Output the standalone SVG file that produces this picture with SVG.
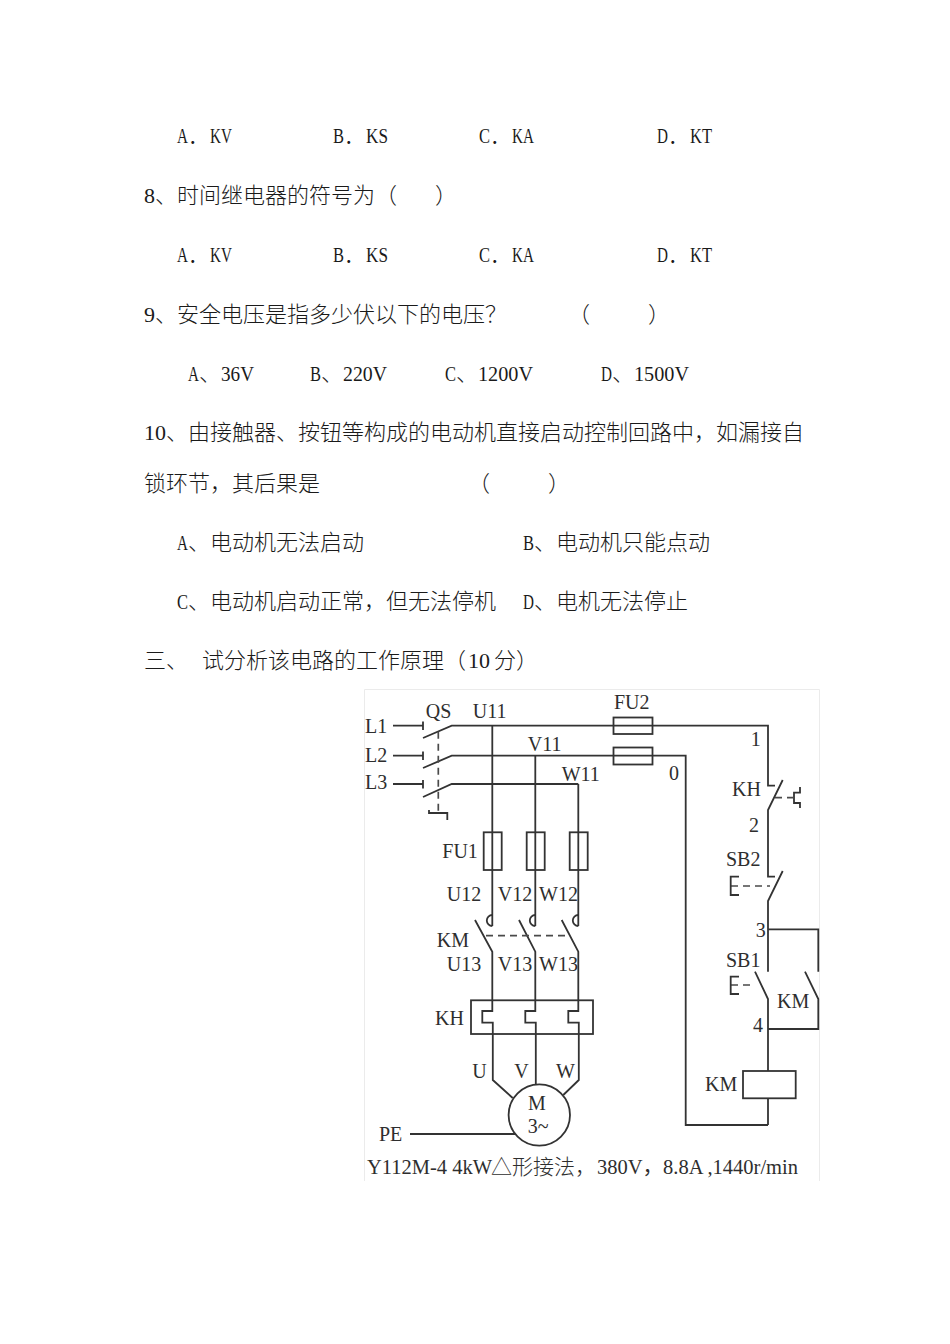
<svg xmlns="http://www.w3.org/2000/svg" width="950" height="1344" viewBox="0 0 950 1344">
<style>
.t{font-family:"Noto Sans CJK SC","Liberation Serif",sans-serif;font-size:22px;font-weight:300;fill:#1a1a1a}
.m{font-family:"Liberation Serif",serif;font-size:22px;font-weight:400;fill:#1a1a1a}
.c{font-family:"Liberation Serif","Noto Sans CJK SC",serif;font-size:20px;fill:#2e2e2e}
.k{font-family:"Liberation Serif","Noto Sans CJK SC",serif;font-size:20.500px;fill:#2e2e2e}
.z{font-family:"Noto Sans CJK SC",sans-serif;font-size:21px;fill:#2e2e2e;font-weight:300}
.w{fill:none;stroke:#333;stroke-width:1.800}
.d{fill:none;stroke:#4a4a4a;stroke-width:1.700;stroke-dasharray:7 5}
</style>
<rect width="950" height="1344" fill="#fff"/>
<g id="questions">
<text class="m" transform="translate(177 143) scale(.69 1)">A</text><text class="t" x="188" y="143">．</text><text class="m" transform="translate(210 143) scale(.69 1)">KV</text>
<text class="m" transform="translate(333 143) scale(.75 1)">B</text><text class="t" x="344" y="143">．</text><text class="m" transform="translate(366 143) scale(.78 1)">KS</text>
<text class="m" transform="translate(479 143) scale(.75 1)">C</text><text class="t" x="490" y="143">．</text><text class="m" transform="translate(512 143) scale(.69 1)">KA</text>
<text class="m" transform="translate(657 143) scale(.69 1)">D</text><text class="t" x="668" y="143">．</text><text class="m" transform="translate(690 143) scale(.75 1)">KT</text>
<text class="m" x="144" y="203">8</text><text class="t" x="155" y="203">、时间继电器的符号为（</text>
<text class="t" x="435" y="203">）</text>
<text class="m" transform="translate(177 262) scale(.69 1)">A</text><text class="t" x="188" y="262">．</text><text class="m" transform="translate(210 262) scale(.69 1)">KV</text>
<text class="m" transform="translate(333 262) scale(.75 1)">B</text><text class="t" x="344" y="262">．</text><text class="m" transform="translate(366 262) scale(.78 1)">KS</text>
<text class="m" transform="translate(479 262) scale(.75 1)">C</text><text class="t" x="490" y="262">．</text><text class="m" transform="translate(512 262) scale(.69 1)">KA</text>
<text class="m" transform="translate(657 262) scale(.69 1)">D</text><text class="t" x="668" y="262">．</text><text class="m" transform="translate(690 262) scale(.75 1)">KT</text>
<text class="m" x="144" y="322">9</text><text class="t" x="155" y="322">、安全电压是指多少伏以下的电压？</text>
<text class="t" x="568" y="322">（</text>
<text class="t" x="648" y="322">）</text>
<text class="m" transform="translate(188 381) scale(.69 1)">A</text><text class="t" x="199" y="381">、</text><text class="m" transform="translate(221 381) scale(.87 1)">36V</text>
<text class="m" transform="translate(310 381) scale(.75 1)">B</text><text class="t" x="321" y="381">、</text><text class="m" transform="translate(343 381) scale(.9 1)">220V</text>
<text class="m" transform="translate(445 381) scale(.75 1)">C</text><text class="t" x="456" y="381">、</text><text class="m" transform="translate(478 381) scale(.92 1)">1200V</text>
<text class="m" transform="translate(601 381) scale(.69 1)">D</text><text class="t" x="612" y="381">、</text><text class="m" transform="translate(634 381) scale(.92 1)">1500V</text>
<text class="m" x="144" y="440">10</text><text class="t" x="166" y="440">、由接触器、按钮等构成的电动机直接启动控制回路中，如漏接自</text>
<text class="t" x="144" y="491">锁环节，其后果是</text>
<text class="t" x="468" y="491">（</text>
<text class="t" x="548" y="491">）</text>
<text class="m" transform="translate(177 550) scale(.69 1)">A</text><text class="t" x="188" y="550">、电动机无法启动</text>
<text class="m" transform="translate(523 550) scale(.75 1)">B</text><text class="t" x="534" y="550">、电动机只能点动</text>
<text class="m" transform="translate(177 609) scale(.75 1)">C</text><text class="t" x="188" y="609">、电动机启动正常，但无法停机</text>
<text class="m" transform="translate(523 609) scale(.69 1)">D</text><text class="t" x="534" y="609">、电机无法停止</text>
<text class="t" x="144" y="668">三、</text>
<text class="t" x="202" y="668">试分析该电路的工作原理（</text><text class="m" x="468" y="668">10</text>
<text class="t" x="494" y="668">分）</text>
</g>
<path d="M364.500 1181V689.500H819.500V1181" fill="none" stroke="#ebebeb" stroke-width="1"/>
<g id="connectors">
<path class="w" d="M393 725.700H423M393 755.700H423M393 784H423"/>
<path class="w" d="M423 738L451.700 725.700H768V785.700H775M423 768L451.700 755.700H685.700V1125H768M423 797L451.700 784H578.300"/>
<path class="w" d="M492.300 725.700V926M535.300 755.700V926M578.300 784V926"/>
<path class="w" d="M475 920L492.300 951.700V1011H482.300V1022.700H492.800V1080L512.700 1098"/>
<path class="w" d="M519 920L535.300 951.700V1011H525.300V1022.700H535.800V1085"/>
<path class="w" d="M561.700 920L578.300 951.700V1011H568.300V1022.700H578.800V1080L563.300 1095"/>
<path class="w" d="M410 1134H515"/>
<path class="w" d="M782.700 780L768 810V876.700H775M782.700 871L768 901V971.700M768 929.300H818.300V971.700"/>
<path class="w" d="M755 971.700L768 999V1071M805 971.700L818.300 999V1029H768M768 1098.300V1125"/>
<path class="d" d="M438.300 731.700V813M486 935.700H570M731 886H770M731 985H753"/>
<path class="d" stroke-dasharray="5 3" d="M775 797.700H793"/>
</g>
<g id="QS"><path class="w" d="M423 721.500V730M423 751.500V760M423 780V788.500M429 810V813H447.300V820"/></g>
<g id="FU1">
<rect class="w" x="483.700" y="832.300" width="18" height="37.700"/>
<rect class="w" x="526.700" y="832.300" width="18" height="37.700"/>
<rect class="w" x="569.700" y="832.300" width="18" height="37.700"/>
</g>
<g id="FU2">
<rect class="w" x="613.500" y="717.500" width="39" height="16.500"/>
<rect class="w" x="613.500" y="747.500" width="39" height="17"/>
</g>
<g id="KM-main"><path class="w" d="M492.300 915A5.500 5.500 0 0 0 492.300 926M535.300 915A5.500 5.500 0 0 0 535.300 926M578.300 915A5.500 5.500 0 0 0 578.300 926"/></g>
<g id="KH-heater"><rect class="w" x="471" y="1000.300" width="122" height="33.700"/></g>
<g id="motor"><circle class="w" cx="539.300" cy="1115" r="30.700"/></g>
<g id="KH-contact"><path class="w" d="M800 787V792.700H794V803H800V808"/></g>
<g id="SB2"><path class="w" d="M739 876.700H730.700V895H739"/></g>
<g id="SB1"><path class="w" d="M739 976.700H730.700V994H739"/></g>
<g id="KM-coil"><rect class="w" x="743" y="1071" width="52.700" height="27.300"/></g>
<g id="labels">
<text class="c" x="365" y="733">L1</text><text class="c" x="365" y="762">L2</text><text class="c" x="365" y="789">L3</text>
<text class="c" x="425.700" y="718">QS</text><text class="c" x="472.700" y="718">U11</text><text class="c" x="527.700" y="751">V11</text><text class="c" x="561.700" y="781">W11</text>
<text class="c" x="442.300" y="858">FU1</text><text class="c" x="446.700" y="901">U12</text><text class="c" x="497.700" y="901">V12</text><text class="c" x="539" y="901">W12</text>
<text class="c" x="436.700" y="947">KM</text><text class="c" x="446.700" y="971">U13</text><text class="c" x="497.700" y="971">V13</text><text class="c" x="539" y="971">W13</text>
<text class="c" x="435" y="1025">KH</text><text class="c" x="472.300" y="1078">U</text><text class="c" x="514.300" y="1078">V</text><text class="c" x="556" y="1078">W</text>
<text class="c" x="528" y="1110">M</text><text class="c" x="527.700" y="1133">3~</text><text class="c" x="379" y="1141">PE</text>
<text class="c" x="614" y="709">FU2</text><text class="c" x="750.700" y="746">1</text><text class="c" x="669" y="780">0</text><text class="c" x="732" y="796">KH</text><text class="c" x="749" y="832">2</text>
<text class="c" x="726" y="866">SB2</text><text class="c" x="755.700" y="937">3</text><text class="c" x="726" y="967">SB1</text><text class="c" x="777" y="1008">KM</text><text class="c" x="753" y="1032">4</text><text class="c" x="705" y="1091">KM</text>
<text class="k" x="367" y="1174">Y112M-4 4kW</text>
<text class="z" x="491" y="1174">△形接法，</text>
<text class="k" x="597" y="1174">380V，</text>
<text class="k" x="663" y="1174">8.8A ,1440r/min</text>
</g>
</svg>
